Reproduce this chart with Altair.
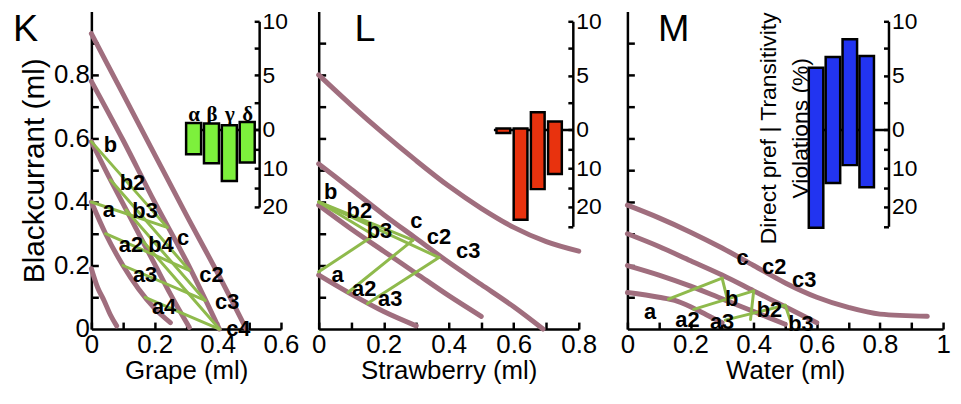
import altair as alt
import pandas as pd

FONT = "Liberation Sans"
PURPLE = "#a06e7e"
GREEN = "#8fba4c"
PLOT_H = 320
UP_PX = 10.9      # inset: px per % (direct preference, upwards)
DOWN_PX = 3.9     # inset: px per % (transitivity violations, downwards)
F = DOWN_PX / UP_PX
ZERO_PX = 119     # inset zero line, px below plot top

# ---------------- K : Grape vs Blackcurrant ----------------
K_CURVES = {
    "C1": ([0, 0.1, 0.2, 0.3, 0.4, 0.49], [0.93, 0.74, 0.55, 0.36, 0.175, 0.0]),
    "C2": ([0, 0.1, 0.2, 0.3, 0.405], [0.78, 0.595, 0.40, 0.215, 0.0]),
    "C3": ([0, 0.05, 0.1, 0.15, 0.2, 0.25, 0.31], [0.59, 0.49, 0.395, 0.30, 0.205, 0.11, 0.005]),
    "C4": ([0, 0.045, 0.1, 0.15, 0.2, 0.25], [0.40, 0.30, 0.20, 0.125, 0.065, 0.02]),
    "C5": ([0, 0.02, 0.04, 0.06, 0.08], [0.19, 0.13, 0.09, 0.045, 0.01]),
}
K_SEG_X1 = [0, 0.045, 0.1, 0.17, 0, 0.06, 0.11, 0.16]
K_SEG_Y1 = [0.40, 0.30, 0.20, 0.10, 0.59, 0.47, 0.375, 0.28]
K_SEG_X2 = [0.24, 0.31, 0.36, 0.405, 0.24, 0.31, 0.36, 0.405]
K_SEG_Y2 = [0.32, 0.185, 0.09, 0.0, 0.32, 0.185, 0.09, 0.0]
K_LAB = ["b", "b2", "b3", "b4", "c", "a", "a2", "a3", "a4", "c2", "c3", "c4"]
K_LAB_X = [0.06, 0.13, 0.17, 0.22, 0.29, 0.055, 0.125, 0.17, 0.23, 0.38, 0.43, 0.465]
K_LAB_Y = [0.58, 0.46, 0.37, 0.265, 0.285, 0.375, 0.265, 0.17, 0.07, 0.17, 0.085, 0.0]
K_UP = [0.6, 0.55, 0.4, 0.7]
K_DOWN = [6.4, 8.7, 13.3, 8.5]

# ---------------- L : Strawberry vs Blackcurrant ----------------
L_CURVES = {
    "L1": ([0, 0.1, 0.2, 0.3, 0.4, 0.5, 0.6, 0.7, 0.8],
           [0.80, 0.705, 0.615, 0.53, 0.45, 0.38, 0.32, 0.275, 0.245]),
    "L2": ([0, 0.1, 0.2, 0.3, 0.4, 0.5, 0.6, 0.69], [0.52, 0.44, 0.36, 0.285, 0.21, 0.14, 0.07, 0.0]),
    "L3": ([0, 0.1, 0.2, 0.3, 0.4, 0.5], [0.39, 0.315, 0.245, 0.175, 0.105, 0.04]),
    "L4": ([0, 0.1, 0.2, 0.3], [0.17, 0.11, 0.055, 0.01]),
}
L_SEG_X1 = [0, 0, 0, 0, 0.09, 0.15]
L_SEG_Y1 = [0.40, 0.40, 0.40, 0.18, 0.115, 0.08]
L_SEG_X2 = [0.17, 0.29, 0.37, 0.17, 0.29, 0.37]
L_SEG_Y2 = [0.295, 0.28, 0.225, 0.295, 0.28, 0.225]
L_LAB = ["b", "b2", "b3", "c", "c2", "c3", "a", "a2", "a3"]
L_LAB_X = [0.037, 0.125, 0.187, 0.30, 0.37, 0.46, 0.058, 0.14, 0.22]
L_LAB_Y = [0.43, 0.37, 0.31, 0.34, 0.29, 0.245, 0.17, 0.125, 0.094]
L_UP = [0.1, 0.1, 1.6, 0.75]
L_DOWN = [0.9, 23.3, 15.4, 11.5]

# ---------------- M : Water vs Blackcurrant ----------------
M_CURVES = {
    "M1": ([0, 0.1, 0.2, 0.3, 0.4, 0.5, 0.6, 0.7, 0.8, 0.95],
           [0.39, 0.35, 0.305, 0.255, 0.20, 0.145, 0.10, 0.068, 0.047, 0.04]),
    "M2": ([0, 0.1, 0.2, 0.3, 0.4, 0.5, 0.6], [0.30, 0.26, 0.215, 0.17, 0.12, 0.07, 0.02]),
    "M3": ([0, 0.1, 0.2, 0.3, 0.4, 0.5], [0.20, 0.17, 0.135, 0.095, 0.055, 0.015]),
    "M4": ([0, 0.1, 0.15, 0.2, 0.25, 0.3], [0.115, 0.10, 0.09, 0.07, 0.045, 0.02]),
}
M_SEG_X1 = [0.13, 0.30, 0.21, 0.40, 0.31, 0.50]
M_SEG_Y1 = [0.094, 0.16, 0.062, 0.12, 0.028, 0.075]
M_SEG_X2 = [0.30, 0.32, 0.40, 0.39, 0.50, 0.52]
M_SEG_Y2 = [0.16, 0.08, 0.12, 0.03, 0.075, 0.016]
M_LAB = ["a", "a2", "a3", "b", "b2", "b3", "c", "c2", "c3"]
M_LAB_X = [0.072, 0.19, 0.30, 0.33, 0.45, 0.55, 0.365, 0.465, 0.56]
M_LAB_Y = [0.053, 0.028, 0.022, 0.094, 0.06, 0.016, 0.225, 0.194, 0.153]
M_UP = [5.7, 6.7, 8.35, 6.8]
M_DOWN = [25.4, 13.8, 9.2, 14.9]
M_NOTE = ["Direct pref | Transitivity", "Violations (%)"]
M_NOTE_X = [0.45, 0.55]
M_NOTE_Y = [0.632, 0.632]

GREEK = ["α", "β", "γ", "δ"]


def curve_frame(curves):
    rows = []
    for name, (xs, ys) in curves.items():
        for i, (x, y) in enumerate(zip(xs, ys)):
            rows.append({"curve": name, "i": i, "x": x, "y": y})
    return pd.DataFrame(rows)


def build_panel(p):
    xs = alt.Scale(domain=[0, p["xmax"]], range=[0, p["xpx"]], nice=False, zero=False)
    ys = alt.Scale(domain=[0, 1.0], range=[PLOT_H, 0], nice=False, zero=False)
    xvals_minor = [round(v * 0.1, 1) for v in range(0, int(round(p["xmax"] * 10)) + 1)]

    x_lab_axis = alt.Axis(orient="bottom", values=p["xvals"], format=".1~f", ticks=False, tickSize=0,
                          grid=False, labelFontSize=26, labelPadding=3, labelFlush=False,
                          labelOverlap=False, title=p["xtitle"], titleFontSize=26, titlePadding=0)
    if p["ylabels"]:
        y_lab_axis = alt.Axis(orient="left", values=[0, 0.2, 0.4, 0.6, 0.8], format=".1~f", ticks=False,
                              tickSize=0, grid=False, labelFontSize=26, labelPadding=2,
                              labelOverlap=False, labelFlush=False, title="Blackcurrant (ml)",
                              titleFontSize=30, titlePadding=4)
    else:
        y_lab_axis = alt.Axis(orient="left", labels=False, ticks=False, tickSize=0, grid=False, title=None)
    x_tick_axis = alt.Axis(orient="bottom", values=xvals_minor, labels=False, domain=False, tickSize=7,
                           offset=-7, grid=False, title=None)
    y_tick_axis = alt.Axis(orient="left", values=[0.1, 0.2, 0.3, 0.4, 0.5, 0.6, 0.7, 0.8, 0.9],
                           labels=False, domain=False, tickSize=7, offset=-7, grid=False, title=None)

    curves = alt.Chart(curve_frame(p["curves"])).mark_line(
        color=PURPLE, strokeWidth=5, strokeCap="round", strokeJoin="round", interpolate="monotone"
    ).encode(
        x=alt.X("x:Q", scale=xs, axis=x_lab_axis),
        y=alt.Y("y:Q", scale=ys, axis=y_lab_axis),
        detail="curve:N", order="i:Q",
    )
    seg_df = pd.DataFrame({"x1": p["sx1"], "y1": p["sy1"], "x2": p["sx2"], "y2": p["sy2"]})
    greens = alt.Chart(seg_df).mark_rule(color=GREEN, strokeWidth=3, strokeCap="round").encode(
        x=alt.X("x1:Q", scale=xs, axis=x_tick_axis),
        y=alt.Y("y1:Q", scale=ys, axis=y_tick_axis),
        x2="x2:Q", y2="y2:Q",
    )
    lab_df = pd.DataFrame({"t": p["lab"], "x": p["lx"], "y": p["ly"]})
    labels = alt.Chart(lab_df).mark_text(font=FONT, fontSize=22, fontWeight="bold", color="black").encode(
        x=alt.X("x:Q", scale=xs, axis=None), y=alt.Y("y:Q", scale=ys, axis=None), text="t:N")
    let_df = pd.DataFrame({"t": [p["letter"]], "x": [p["letter_x"]], "y": [1.0]})
    letter = alt.Chart(let_df).mark_text(font=FONT, fontSize=38, align="left", baseline="top",
                                         color="black").encode(
        x=alt.X("x:Q", scale=xs, axis=None), y=alt.Y("y:Q", scale=ys, axis=None), text="t:N")
    main_layers = [curves, greens, labels, letter]
    if p.get("note"):
        note_df = pd.DataFrame({"t": M_NOTE, "x": M_NOTE_X, "y": M_NOTE_Y})
        note = alt.Chart(note_df).mark_text(font=FONT, fontSize=23, angle=270, align="center",
                                            baseline="middle", color="black").encode(
            x=alt.X("x:Q", scale=xs, axis=None), y=alt.Y("y:Q", scale=ys, axis=None), text="t:N")
        main_layers.append(note)
    main = alt.layer(*main_layers).resolve_axis(x="independent", y="independent")

    # ----- inset bar chart -----
    h = p["half"]
    idx = [1, 2, 3, 4]
    bar_df = pd.DataFrame({
        "g": GREEK, "i": idx,
        "x1": [i - h for i in idx], "x2": [i + h for i in idx],
        "top": p["up"], "bot": [-d * F for d in p["down"]],
    })
    lo = p["ins_min"]
    ixs = alt.Scale(domain=p["ins_dom"], range=p["ins_rng"], nice=False, zero=False)
    iys = alt.Scale(domain=[-lo * F, 10], range=[ZERO_PX + lo * DOWN_PX, ZERO_PX - 10 * UP_PX],
                    nice=False, zero=False)
    X_AX = p["ins_rng"][1]
    if p["greek"]:
        zero_axis = alt.Axis(orient="top", offset=-ZERO_PX, values=idx, ticks=False, tickSize=0,
                             grid=False, title=None, domainWidth=2.5,
                             labelExpr="['','α','β','γ','δ'][datum.value]",
                             labelFont="Liberation Serif", labelFontWeight="bold", labelFontSize=21,
                             labelPadding=5)
    else:
        zero_axis = alt.Axis(orient="top", offset=-ZERO_PX, labels=False, ticks=False, tickSize=0,
                             grid=False, title=None, domainWidth=2.5)
    lab_vals = [10, 5, 0, -10 * F, -20 * F]
    ins_lab_axis = alt.Axis(orient="right", offset=X_AX - p["width"], values=lab_vals,
                            labelExpr=f"datum.value >= 0 ? '' + round(datum.value) : '' + round(-datum.value / {F})",
                            ticks=False, tickSize=0, grid=False, title=None, labelFontSize=23,
                            labelPadding=3, labelOverlap=False, labelFlush=False, domainWidth=2.5)
    tick_vals = [10, 7.5, 5, 2.5, 0] + [-k * F for k in range(5, lo + 1, 5)]
    ins_tick_axis = alt.Axis(orient="left", offset=-X_AX, values=tick_vals, labels=False, domain=False,
                             tickSize=5, grid=False, title=None)
    bars = alt.Chart(bar_df).mark_rect(fill=p["color"], stroke="black", strokeWidth=2.5).encode(
        x=alt.X("x1:Q", scale=ixs, axis=zero_axis), x2="x2:Q",
        y=alt.Y("top:Q", scale=iys, axis=ins_lab_axis), y2="bot:Q",
    )
    ticks = alt.Chart(bar_df).mark_rect(opacity=0).encode(
        x=alt.X("x1:Q", scale=ixs, axis=None), x2="x2:Q",
        y=alt.Y("top:Q", scale=iys, axis=ins_tick_axis), y2="bot:Q",
    )
    inset = alt.layer(bars, ticks).resolve_axis(x="independent", y="independent")

    return alt.layer(main, inset).resolve_scale(x="independent", y="independent").properties(
        width=p["width"], height=PLOT_H)


PANELS = [
    dict(width=191, xmax=0.6, xpx=191, xvals=[0, 0.2, 0.4, 0.6], xtitle="Grape (ml)", ylabels=True,
         letter="K", letter_x=-0.248, curves=K_CURVES,
         sx1=K_SEG_X1, sy1=K_SEG_Y1, sx2=K_SEG_X2, sy2=K_SEG_Y2,
         lab=K_LAB, lx=K_LAB_X, ly=K_LAB_Y, up=K_UP, down=K_DOWN, color="#7df03c",
         half=0.42, ins_min=20, ins_dom=[0.556, 4.667], ins_rng=[95, 169], greek=True),
    dict(width=273, xmax=0.8, xpx=262, xvals=[0, 0.2, 0.4, 0.6, 0.8], xtitle="Strawberry (ml)",
         ylabels=False, letter="L", letter_x=0.11, curves=L_CURVES,
         sx1=L_SEG_X1, sy1=L_SEG_Y1, sx2=L_SEG_X2, sy2=L_SEG_Y2,
         lab=L_LAB, lx=L_LAB_X, ly=L_LAB_Y, up=L_UP, down=L_DOWN, color="#e8320e",
         half=0.40, ins_min=25, ins_dom=[0.42, 5.04], ins_rng=[176, 256], greek=False),
    dict(width=318, xmax=1.0, xpx=318, xvals=[0, 0.2, 0.4, 0.6, 0.8, 1.0], xtitle="Water (ml)",
         ylabels=False, letter="M", letter_x=0.097, curves=M_CURVES,
         sx1=M_SEG_X1, sy1=M_SEG_Y1, sx2=M_SEG_X2, sy2=M_SEG_Y2,
         lab=M_LAB, lx=M_LAB_X, ly=M_LAB_Y, up=M_UP, down=M_DOWN, color="#2234f0",
         half=0.43, ins_min=25, ins_dom=[0.41, 5.29], ins_rng=[180, 263], greek=False, note=True),
]

chart = alt.hconcat(*[build_panel(p) for p in PANELS], spacing=38, bounds="flush").properties(
    padding={"left": 5, "top": 1, "right": 2, "bottom": 2}
).configure_axis(
    labelFont=FONT, titleFont=FONT, labelColor="black", titleColor="black",
    domainColor="black", tickColor="black", domainWidth=2.5, tickWidth=2.5,
    titleFontWeight="normal",
).configure_view(stroke=None)

chart.save("out.html", embed_options={"renderer": "svg", "actions": False})
